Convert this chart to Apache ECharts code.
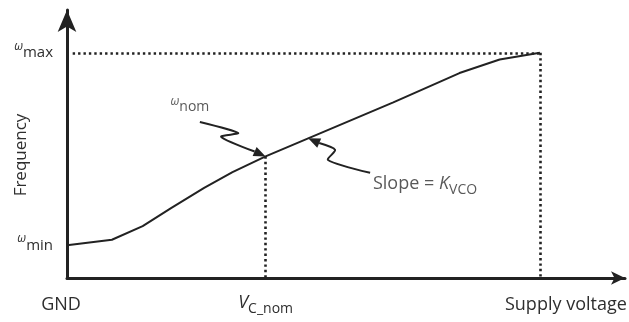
<!DOCTYPE html>
<html>
<head>
<meta charset="utf-8">
<script src="https://cdn.jsdelivr.net/npm/echarts@6/dist/echarts.min.js"></script>
<style>
  html, body { margin: 0; padding: 0; background: #fff; }
  #chart { width: 629px; height: 322px; }
</style>
</head>
<body>
<div id="chart"></div>
<script>
// Control voltage (GND = 0, supply = 10) and oscillator frequency (ω_min .. ω_max = 10)
const voltage   = [0, 0.95, 1.6, 2.2, 2.9, 3.5, 4.2, 5.1, 6.9, 8.3, 9.15, 10];
const frequency = [1.45, 1.7, 2.3, 3.1, 4.0, 4.7, 5.4, 6.2, 7.8, 9.1, 9.7, 10];

// Named points on the axes
const vNom = 4.2, wNom = 5.4;
const vSupply = 10, wMax = 10, wMin = 1.45;
const xTicks = [0, vNom, vSupply];
const yTicks = [wMin, wMax];

// Callout arrows (tail -> tip)
const nomArrow   = [[2.81, 6.93], [3.62, 6.44], [3.26, 6.27], [4.2, 5.4]];
const slopeArrow = [[6.41, 4.67], [5.52, 5.24], [5.67, 5.69], [5.1, 6.2]];

const ink = '#222';
const textColor = '#2e2e2e';
const font = 'Open Sans';
const dots = { color: ink, width: 2.6, type: [2.4, 3] };

// Zig-zag callout with a filled arrowhead at its last point
function renderArrow(params, api) {
  const pts = (params.dataIndex === 0 ? nomArrow : slopeArrow).map(p => api.coord(p));
  const tip = pts[pts.length - 1];
  const prev = pts[pts.length - 2];
  const dx = tip[0] - prev[0], dy = tip[1] - prev[1];
  const len = Math.hypot(dx, dy);
  const ux = dx / len, uy = dy / len;
  const headLen = 12, headHalf = 5;
  const base = [tip[0] - ux * headLen, tip[1] - uy * headLen];
  const line = pts.slice(0, -1).concat([base]);
  return {
    type: 'group',
    children: [
      {
        type: 'polyline',
        shape: { points: line, smooth: 0.25 },
        style: { stroke: ink, lineWidth: 2, fill: null }
      },
      {
        type: 'polygon',
        shape: { points: [tip, [base[0] - uy * headHalf, base[1] + ux * headHalf], [base[0] + uy * headHalf, base[1] - ux * headHalf]] },
        style: { fill: ink }
      }
    ]
  };
}

const chart = echarts.init(document.getElementById('chart'));
chart.setOption({
  animation: false,
  backgroundColor: '#fff',
  grid: { left: 67, right: 4, top: 10, bottom: 44, containLabel: false, outerBoundsMode: 'none' },
  xAxis: {
    type: 'value', min: 0, max: 11.8,
    splitLine: { show: false },
    axisTick: { show: false },
    axisLine: { lineStyle: { color: ink, width: 3 }, symbol: ['none', 'arrow'], symbolSize: [10, 14] },
    axisLabel: {
      customValues: xTicks,
      margin: 16,
      color: textColor,
      fontFamily: font,
      formatter: v => v === 0 ? '{g|GND}' : (v === vNom ? '{v|V}{c|C_nom}' : '{s|Supply voltage}'),
      rich: {
        g: { fontSize: 18, fontFamily: font, color: textColor, lineHeight: 22, padding: [0, 12, 0, 0] },
        v: { fontSize: 18, fontFamily: font, fontStyle: 'italic', color: textColor, lineHeight: 18, verticalAlign: 'top' },
        c: { fontSize: 14, fontFamily: font, color: textColor, lineHeight: 22, verticalAlign: 'bottom' },
        s: { fontSize: 18, fontFamily: font, color: textColor, lineHeight: 22, padding: [0, 0, 0, 52] }
      }
    }
  },
  yAxis: {
    type: 'value', min: 0, max: 11.9,
    splitLine: { show: false },
    axisTick: { show: false },
    axisLine: { lineStyle: { color: ink, width: 3 }, symbol: ['none', 'arrow'], symbolSize: [14, 22] },
    name: '{f|Frequency}{gap|}',
    nameLocation: 'middle',
    nameGap: 37,
    nameRotate: 90,
    nameMoveOverlap: false,
    nameTextStyle: {
      fontSize: 17, fontFamily: font, color: textColor,
      rich: {
        f: { fontSize: 17, fontFamily: font, color: textColor },
        gap: { width: 22 }
      }
    },
    axisLabel: {
      customValues: yTicks,
      margin: 14,
      color: textColor,
      fontFamily: font,
      padding: [0, 0, 5, 0],
      formatter: v => v === wMax ? '{w|ω}{s|max}' : '{w|ω}{s|min}',
      rich: {
        w: { fontSize: 12, fontFamily: font, fontStyle: 'italic', color: textColor, lineHeight: 12, verticalAlign: 'top' },
        s: { fontSize: 15, fontFamily: font, color: textColor, lineHeight: 20, verticalAlign: 'bottom' }
      }
    }
  },
  series: [
    {
      type: 'line',
      data: voltage.map((v, i) => [v, frequency[i]]),
      symbol: 'none',
      lineStyle: { color: ink, width: 2 },
      z: 3,
      markLine: {
        silent: true,
        symbol: ['none', 'none'],
        label: { show: false },
        lineStyle: dots,
        data: [
          [{ coord: [0.12, wMax] }, { coord: [vSupply, wMax] }],
          [{ coord: [vSupply, wMax] }, { coord: [vSupply, 0] }],
          [{ coord: [vNom, wNom] }, { coord: [vNom, 0] }]
        ]
      }
    },
    {
      type: 'custom',
      coordinateSystem: 'cartesian2d',
      renderItem: renderArrow,
      data: [nomArrow[nomArrow.length - 1], slopeArrow[slopeArrow.length - 1]],
      silent: true,
      z: 4
    },
    {
      type: 'scatter',
      symbolSize: 0,
      silent: true,
      data: [
        { value: [2.6, 7.7], label: { formatter: '{w|ω}{n|nom}', position: 'inside' } },
        { value: [6.47, 4.18], label: { formatter: '{t|Slope = }{k|K}{s|VCO}', position: 'right', distance: 0 } }
      ],
      label: {
        show: true,
        color: textColor,
        fontFamily: font,
        rich: {
          w: { fontSize: 12, fontFamily: font, fontStyle: 'italic', color: textColor, lineHeight: 12, verticalAlign: 'top' },
          n: { fontSize: 14, fontFamily: font, color: textColor, lineHeight: 18, verticalAlign: 'bottom' },
          s: { fontSize: 14, fontFamily: font, color: textColor, lineHeight: 26, verticalAlign: 'bottom' },
          t: { fontSize: 18, fontFamily: font, color: textColor, lineHeight: 22 },
          k: { fontSize: 18, fontFamily: font, fontStyle: 'italic', color: textColor, lineHeight: 22 }
        }
      }
    }
  ]
});
</script>
</body>
</html>
